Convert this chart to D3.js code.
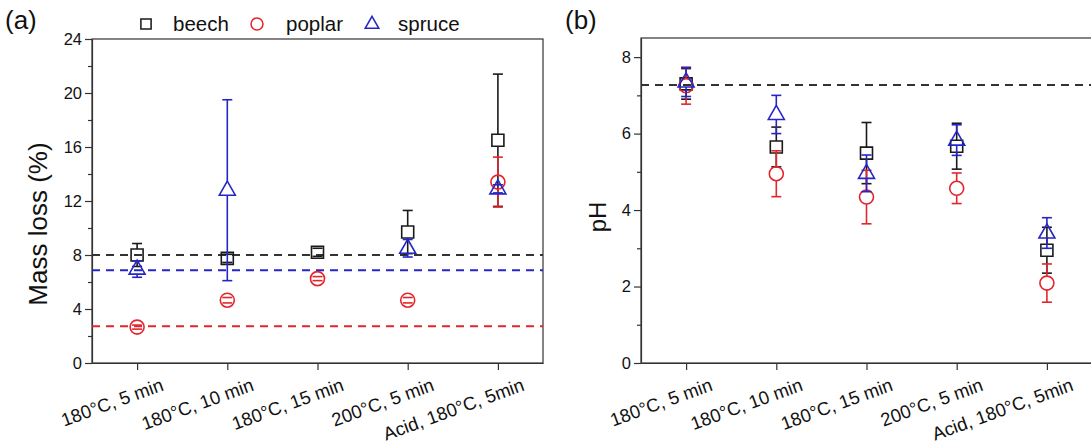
<!DOCTYPE html>
<html>
<head>
<meta charset="utf-8">
<script src="https://cdn.jsdelivr.net/npm/d3@7"></script>
<style>
  body { margin: 0; background: #fff; }
  svg text { font-family: "Liberation Sans", Arial, sans-serif; fill: #111; }
</style>
</head>
<body>
<svg id="drawing_region"></svg>
<script>
// treatments on the x axis
const categories = ["180°C, 5 min", "180°C, 10 min", "180°C, 15 min", "200°C, 5 min", "Acid, 180°C, 5min"];
const species = ["beech", "poplar", "spruce"];

// (a) mass loss, %
const massBeech = [8.0, 7.75, 8.2, 9.7, 16.5];
const massBeechErr = [0.85, 0.3, 0.3, 1.6, 4.9];
const massPoplar = [2.66, 4.65, 6.25, 4.65, 13.4];
const massPoplarErr = [0.15, 0.2, 0.15, 0.2, 1.85];
const massSpruce = [6.95, 12.8, null, 8.5, 12.9];
const massSpruceErr = [0.6, 6.7, null, 0.65, 0.3];
const massRef = [8.0, 2.73, 6.87];   // beech, poplar, spruce
const massTicks = [0, 4, 8, 12, 16, 20, 24];

// (b) pH
const phBeech = [7.3, 5.65, 5.49, 5.67, 2.95];
const phBeechErr = [0.4, 0.52, 0.8, 0.6, 0.6];
const phPoplar = [7.25, 4.95, 4.34, 4.57, 2.09];
const phPoplarErr = [0.48, 0.6, 0.7, 0.4, 0.5];
const phSpruce = [7.35, 6.5, 4.96, 5.83, 3.4];
const phSpruceErr = [0.38, 0.5, 0.48, 0.4, 0.4];
const phRef = [7.27];
const phTicks = [0, 2, 4, 6, 8];

const colors = {beech: "#1a1a1a", poplar: "#e3262d", spruce: "#2626c8"};

const svg = d3.select("#drawing_region")
    .attr("width", 1091)
    .attr("height", 447);

// marker shapes, with the gap the error bar leaves above/below the symbol
const shapes = {
  beech:  {d: "M-6,-6H6V6H-6Z", top: 6, bottom: 6},
  poplar: {d: "M7,0A7,7 0 1,1 -7,0A7,7 0 1,1 7,0Z", top: 7, bottom: 7},
  spruce: {d: "M0,-9L8,5H-8Z", top: 9, bottom: 5}
};

function drawPanel(cfg){
  const g = svg.append("g");
  const x = d3.scalePoint().domain(categories).range([cfg.left, cfg.right]).padding(0.5);
  const y = d3.scaleLinear().domain(cfg.domain).range([cfg.bottom, cfg.top]);

  // frame
  g.append("rect")
      .attr("x", cfg.left).attr("y", cfg.top)
      .attr("width", cfg.right - cfg.left).attr("height", cfg.bottom - cfg.top)
      .attr("fill", "none").attr("stroke", "#333").attr("stroke-width", 1.2);

  // minor ticks
  g.append("g")
      .attr("transform", `translate(${cfg.left},0)`)
      .call(d3.axisLeft(y).tickValues(cfg.minor).tickSize(4).tickFormat("").tickSizeOuter(0))
      .call(s => s.select(".domain").remove())
      .call(s => s.selectAll("line").attr("stroke", "#333").attr("stroke-width", 1.2));

  // y axis
  const ya = g.append("g")
      .attr("transform", `translate(${cfg.left},0)`)
      .call(d3.axisLeft(y).tickValues(cfg.ticks).tickSize(7).tickPadding(3).tickSizeOuter(0));
  ya.select(".domain").attr("stroke", "#333").attr("stroke-width", 1.2);
  ya.selectAll("line").attr("stroke", "#333").attr("stroke-width", 1.2);
  ya.selectAll("text").style("font-size", "16.5px").attr("fill", "#111");

  // x axis
  const xa = g.append("g")
      .attr("transform", `translate(0,${cfg.bottom})`)
      .call(d3.axisBottom(x).tickSize(7).tickSizeOuter(0));
  xa.select(".domain").attr("stroke", "#333").attr("stroke-width", 1.2);
  xa.selectAll("line").attr("stroke", "#333").attr("stroke-width", 1.2);
  xa.selectAll("text")
      .style("font-size", "18.5px").attr("fill", "#111")
      .attr("text-anchor", "end")
      .attr("x", 0).attr("y", 0).attr("dy", 0)
      .attr("transform", "translate(27,27) rotate(-20)");

  // axis title
  g.append("text")
      .attr("transform", `translate(${cfg.titleX},${cfg.titleY}) rotate(-90)`)
      .attr("text-anchor", "middle")
      .style("font-size", cfg.titleSize + "px")
      .text(cfg.title);

  // panel letter
  g.append("text")
      .attr("x", cfg.labelX).attr("y", 29)
      .style("font-size", "26px")
      .text(cfg.label);

  // reference lines
  cfg.refs.forEach((v, i) => {
    g.append("line")
        .attr("x1", cfg.left).attr("x2", cfg.right)
        .attr("y1", y(v)).attr("y2", y(v))
        .attr("stroke", cfg.refColors[i])
        .attr("stroke-width", 2)
        .attr("stroke-dasharray", "8,6");
  });

  // series: error bars then markers
  cfg.series.forEach(s => {
    const col = colors[s.name];
    const shp = shapes[s.name];
    const pts = categories.map((c, i) => ({c: c, v: s.values[i], e: s.errs[i]}))
        .filter(d => d.v != null);
    const sg = g.append("g").attr("stroke", col).attr("stroke-width", 1.6).attr("fill", "none");
    pts.forEach(d => {
      const cx = x(d.c), yv = y(d.v), yt = y(d.v + d.e), yb = y(d.v - d.e);
      if (yt < yv - shp.top) sg.append("line").attr("x1", cx).attr("x2", cx).attr("y1", yt).attr("y2", yv - shp.top);
      if (yb > yv + shp.bottom) sg.append("line").attr("x1", cx).attr("x2", cx).attr("y1", yv + shp.bottom).attr("y2", yb);
      sg.append("line").attr("x1", cx - 5).attr("x2", cx + 5).attr("y1", yt).attr("y2", yt);
      sg.append("line").attr("x1", cx - 5).attr("x2", cx + 5).attr("y1", yb).attr("y2", yb);
    });
    sg.selectAll("path.marker")
        .data(pts)
        .join("path")
        .attr("class", "marker")
        .attr("d", shp.d)
        .attr("transform", d => `translate(${x(d.c)},${y(d.v)})`);
  });
}

drawPanel({
  left: 92, right: 543, top: 39, bottom: 363,
  domain: [0, 24], ticks: massTicks, minor: [2, 6, 10, 14, 18, 22],
  title: "Mass loss (%)", titleX: 47, titleY: 224, titleSize: 26,
  label: "(a)", labelX: 5,
  refs: massRef, refColors: ["#333", colors.poplar, colors.spruce],
  series: [
    {name: "beech", values: massBeech, errs: massBeechErr},
    {name: "poplar", values: massPoplar, errs: massPoplarErr},
    {name: "spruce", values: massSpruce, errs: massSpruceErr}
  ]
});

drawPanel({
  left: 641, right: 1092, top: 38, bottom: 363,
  domain: [0, 8.5], ticks: phTicks, minor: [1, 3, 5, 7],
  title: "pH", titleX: 606, titleY: 217, titleSize: 24,
  label: "(b)", labelX: 565,
  refs: phRef, refColors: ["#333"],
  series: [
    {name: "beech", values: phBeech, errs: phBeechErr},
    {name: "poplar", values: phPoplar, errs: phPoplarErr},
    {name: "spruce", values: phSpruce, errs: phSpruceErr}
  ]
});

// legend
const legendX = [146, 257, 372];
const legendTextX = [173, 286, 398];
const lg = svg.append("g");
species.forEach((sp, i) => {
  lg.append("path")
      .attr("d", shapes[sp].d)
      .attr("transform", `translate(${legendX[i]},24) scale(0.85)`)
      .attr("fill", "none")
      .attr("stroke", colors[sp])
      .attr("stroke-width", 1.8);
  lg.append("text")
      .attr("x", legendTextX[i]).attr("y", 31)
      .style("font-size", "20.5px")
      .text(sp);
});
</script>
</body>
</html>
